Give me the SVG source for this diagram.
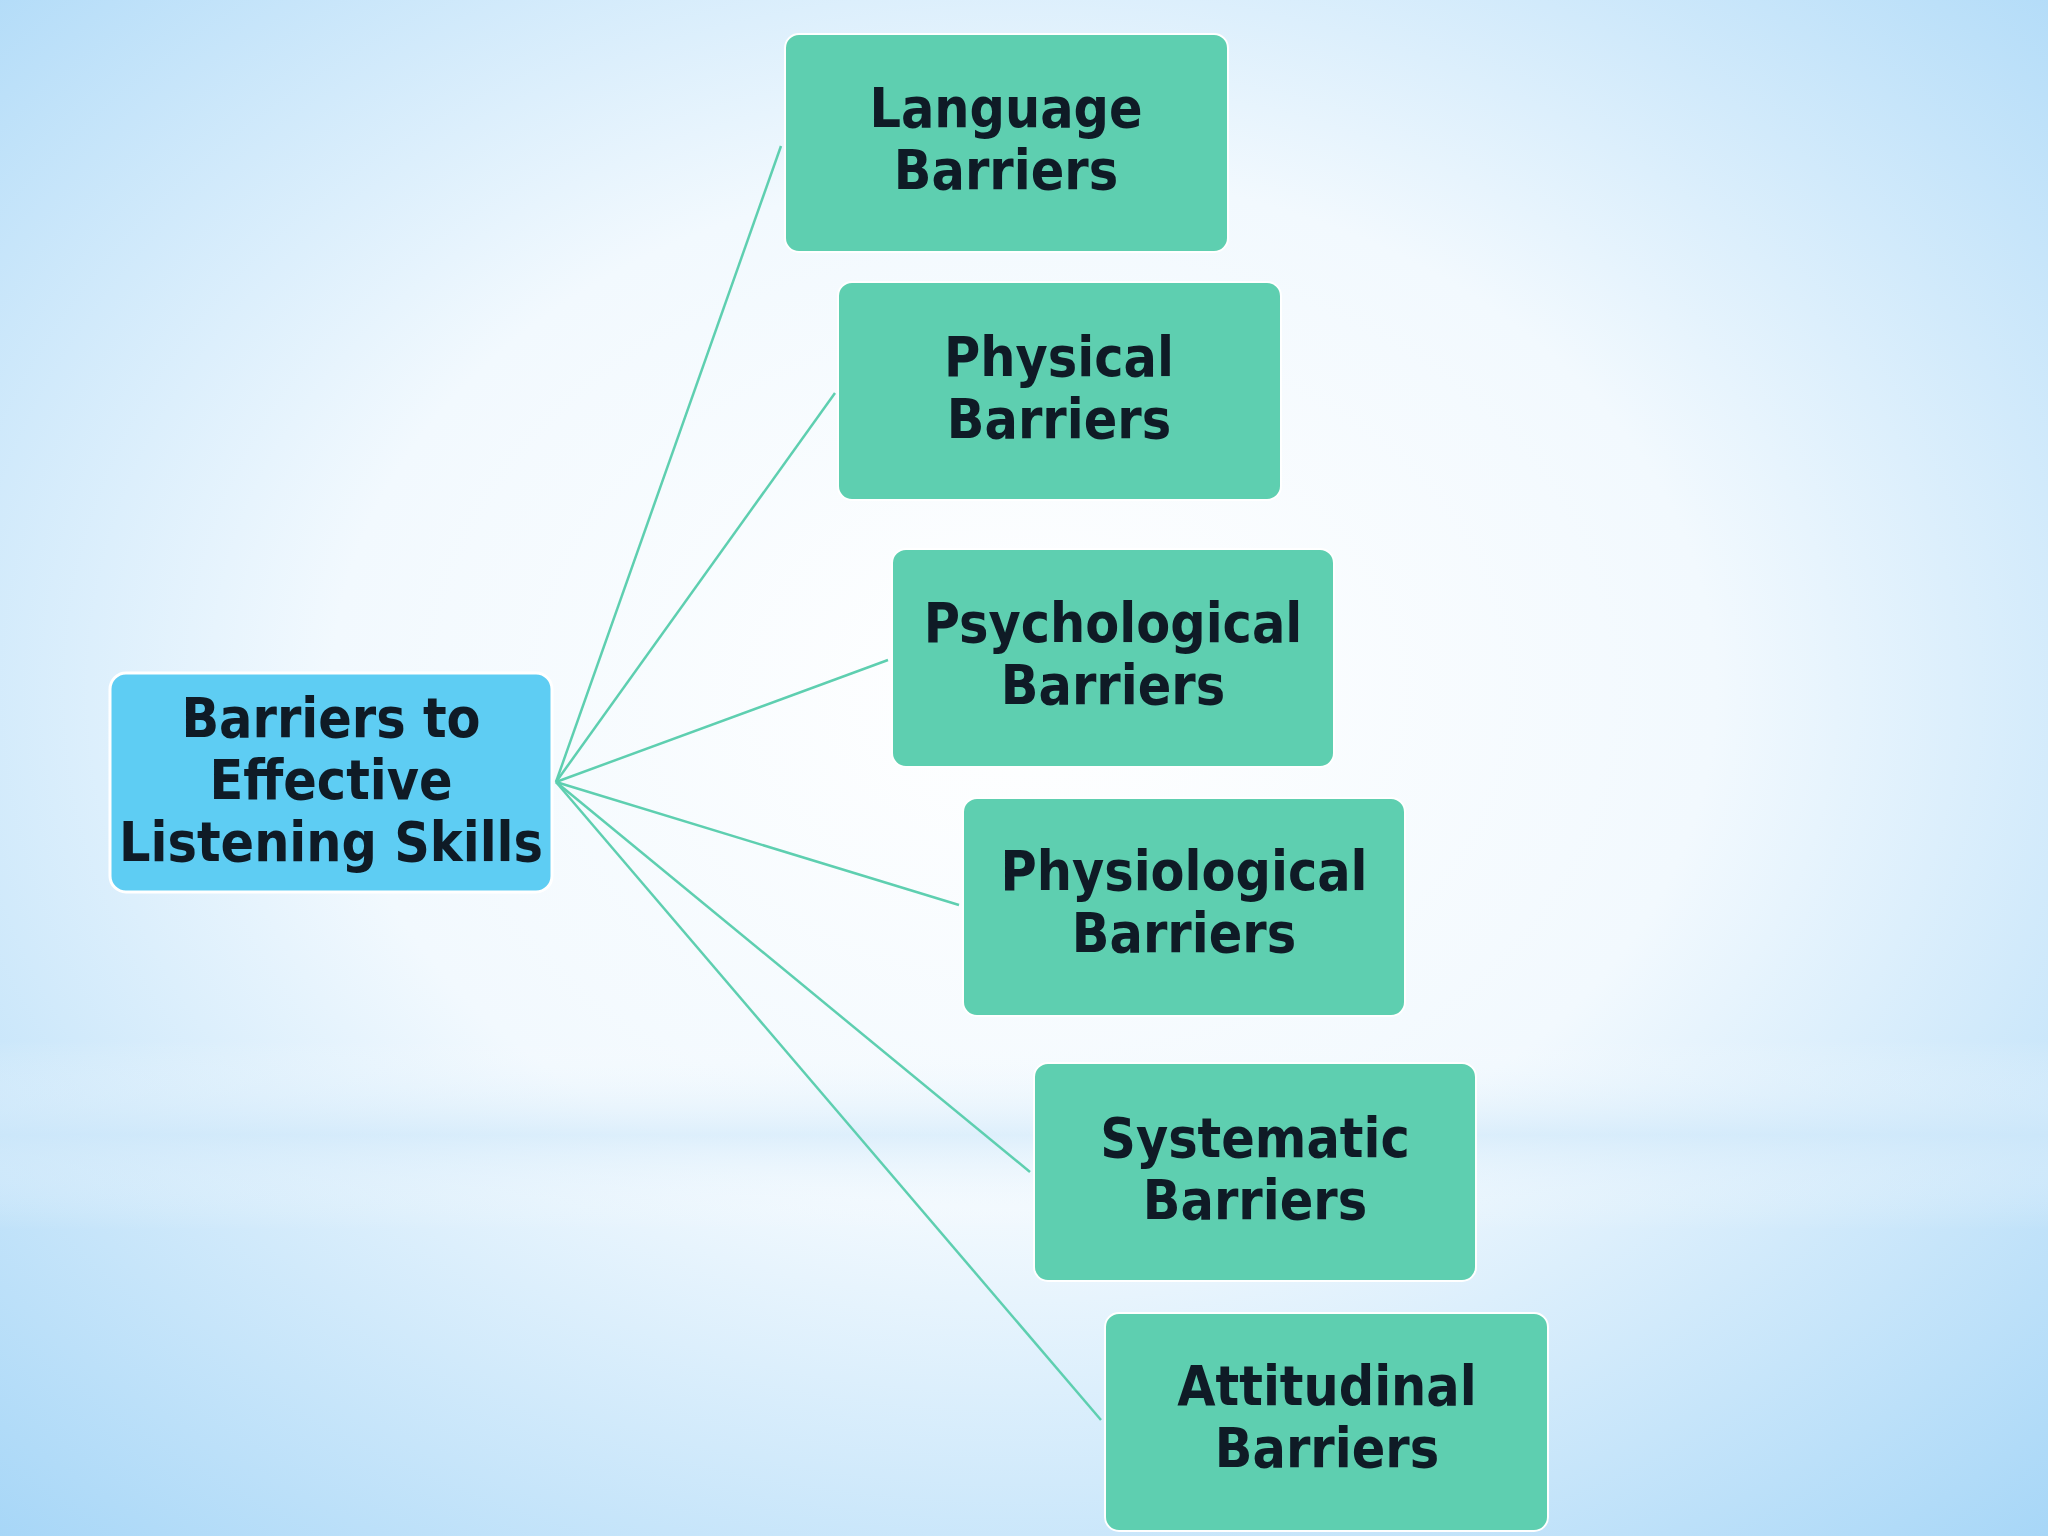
<svg xmlns="http://www.w3.org/2000/svg" width="2048" height="1536" viewBox="0 0 2048 1536">
<defs>
<radialGradient id="bg" cx="0.5" cy="0.45" r="0.75">
<stop offset="0" stop-color="#ffffff"/>
<stop offset="0.45" stop-color="#f2f9fe"/>
<stop offset="1" stop-color="#a6d6f7"/>
</radialGradient>
<linearGradient id="band" x1="0" y1="0" x2="0" y2="1">
<stop offset="0" stop-color="#ffffff" stop-opacity="0"/>
<stop offset="0.5" stop-color="#cfe8fa" stop-opacity="0.6"/>
<stop offset="1" stop-color="#ffffff" stop-opacity="0"/>
</linearGradient>
<style>
.n{fill:#5ecfb0;stroke:#ffffff;stroke-width:2}
.r{fill:#5ecdf3;stroke:#ffffff;stroke-width:3}
.t{font-family:"DejaVu Sans Condensed","DejaVu Sans",sans-serif;font-stretch:condensed;font-weight:bold;font-size:55px;fill:#0f1b26;text-anchor:middle}
.c{stroke:#5ecfb0;stroke-width:2.5;fill:none}
</style>
</defs>
<rect width="2048" height="1536" fill="url(#bg)"/>
<rect y="1040" width="2048" height="190" fill="url(#band)"/>
<g id="connectors">
<line class="c" x1="556" y1="782" x2="781" y2="146"/>
<line class="c" x1="556" y1="782" x2="835" y2="393"/>
<line class="c" x1="556" y1="782" x2="888" y2="660"/>
<line class="c" x1="556" y1="782" x2="959" y2="905"/>
<line class="c" x1="556" y1="782" x2="1030" y2="1172"/>
<line class="c" x1="556" y1="782" x2="1101" y2="1420"/>
</g>
<g id="root"><rect class="r" x="110" y="673" width="442" height="219" rx="16"/>
<text class="t" x="331" y="737">Barriers to</text><text class="t" x="331" y="799">Effective</text><text class="t" x="331" y="861">Listening Skills</text></g>
<g id="language"><rect class="n" x="785" y="34" width="443" height="218" rx="14"/>
<text class="t" x="1006" y="127">Language</text><text class="t" x="1006" y="189">Barriers</text></g>
<g id="physical"><rect class="n" x="838" y="282" width="443" height="218" rx="14"/>
<text class="t" x="1059" y="376">Physical</text><text class="t" x="1059" y="438">Barriers</text></g>
<g id="psychological"><rect class="n" x="892" y="549" width="442" height="218" rx="14"/>
<text class="t" x="1113" y="642">Psychological</text><text class="t" x="1113" y="704">Barriers</text></g>
<g id="physiological"><rect class="n" x="963" y="798" width="442" height="218" rx="14"/>
<text class="t" x="1184" y="890">Physiological</text><text class="t" x="1184" y="952">Barriers</text></g>
<g id="systematic"><rect class="n" x="1034" y="1063" width="442" height="218" rx="14"/>
<text class="t" x="1255" y="1157">Systematic</text><text class="t" x="1255" y="1219">Barriers</text></g>
<g id="attitudinal"><rect class="n" x="1105" y="1313" width="443" height="218" rx="14"/>
<text class="t" x="1327" y="1405">Attitudinal</text><text class="t" x="1327" y="1467">Barriers</text></g>
</svg>
